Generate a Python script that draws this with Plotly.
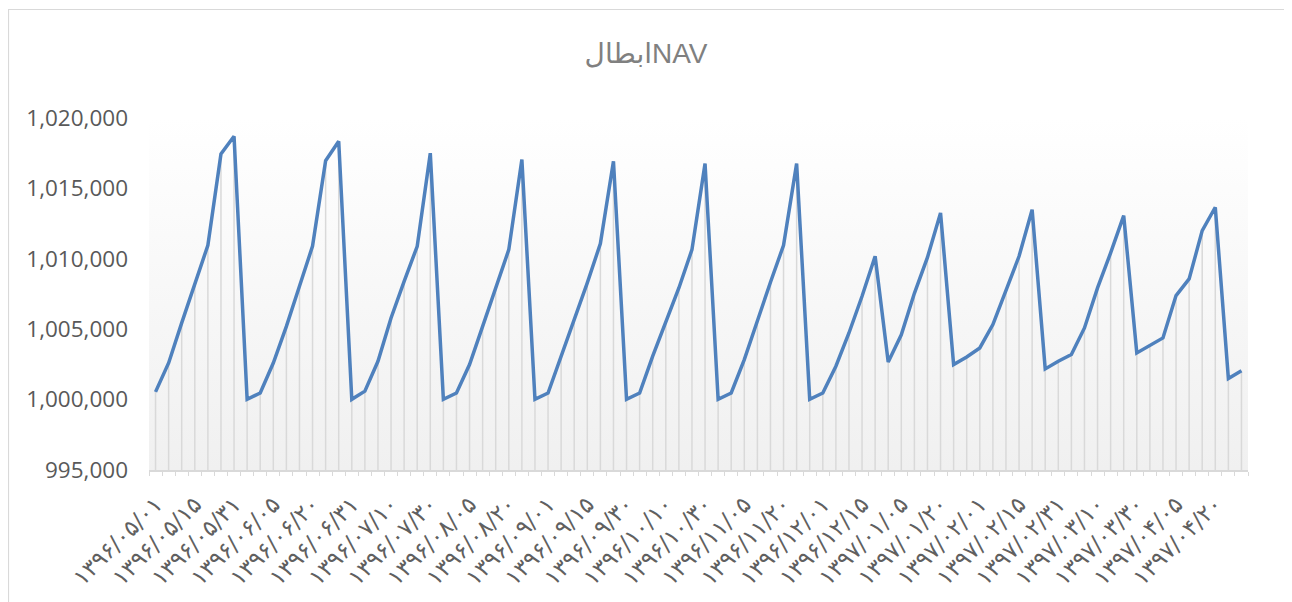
import base64
import plotly.graph_objects as go

# NAV values (one per category, 84 points)
nav_values = [
    1000550, 1002600, 1005450, 1008170, 1010960, 1017450, 1018700,
    1000020, 1000470, 1002600, 1005200, 1008050, 1010900, 1016970, 1018350,
    1000020, 1000600, 1002720, 1005800, 1008400, 1010890, 1017500,
    1000020, 1000470, 1002490, 1005200, 1007930, 1010650, 1017050,
    1000020, 1000470, 1003080, 1005560, 1008290, 1011080, 1016930,
    1000020, 1000470, 1003080, 1005440, 1007930, 1010650, 1016760,
    1000020, 1000470, 1002840, 1005680, 1008330, 1010960, 1016760,
    1000020, 1000470, 1002370, 1004730, 1007340, 1010180,
    1002670, 1004600, 1007550, 1010100, 1013260,
    1002490, 1003030, 1003670, 1005330, 1007690, 1010180, 1013490,
    1002180, 1002720, 1003200, 1005090, 1007930, 1010420, 1013070,
    1003310, 1003840, 1004380, 1007390, 1008570, 1012000, 1013660,
    1001500, 1002050,
]

# date labels shown on the category axis (every third category)
tick_labels = [
    "۱۳۹۶/۰۵/۰۱", "۱۳۹۶/۰۵/۱۵", "۱۳۹۶/۰۵/۳۱", "۱۳۹۶/۰۶/۰۵", "۱۳۹۶/۰۶/۲۰",
    "۱۳۹۶/۰۶/۳۱", "۱۳۹۶/۰۷/۱۰", "۱۳۹۶/۰۷/۳۰", "۱۳۹۶/۰۸/۰۵", "۱۳۹۶/۰۸/۲۰",
    "۱۳۹۶/۰۹/۰۱", "۱۳۹۶/۰۹/۱۵", "۱۳۹۶/۰۹/۳۰", "۱۳۹۶/۱۰/۱۰", "۱۳۹۶/۱۰/۳۰",
    "۱۳۹۶/۱۱/۰۵", "۱۳۹۶/۱۱/۲۰", "۱۳۹۶/۱۲/۰۱", "۱۳۹۶/۱۲/۱۵", "۱۳۹۷/۰۱/۰۵",
    "۱۳۹۷/۰۱/۲۰", "۱۳۹۷/۰۲/۰۱", "۱۳۹۷/۰۲/۱۵", "۱۳۹۷/۰۲/۳۱", "۱۳۹۷/۰۳/۱۰",
    "۱۳۹۷/۰۳/۳۰", "۱۳۹۷/۰۴/۰۵", "۱۳۹۷/۰۴/۲۰",
]
label_step = 3

y_min, y_max, y_step = 995000, 1020000, 5000
title_text = "ابطالNAV"

x_idx = list(range(len(nav_values)))
tick_vals = [i * label_step for i in range(len(tick_labels))]

# drop lines from each point down to the axis
drop_x, drop_y = [], []
for xi, v in zip(x_idx, nav_values):
    drop_x += [xi, xi, None]
    drop_y += [y_min, v, None]

fig = go.Figure()
fig.add_trace(go.Scatter(
    x=drop_x, y=drop_y, mode="lines",
    line=dict(color="#d9d9d9", width=1.5),
    hoverinfo="skip", showlegend=False,
))
fig.add_trace(go.Scatter(
    x=x_idx, y=nav_values, mode="lines",
    line=dict(color="#4f81bd", width=3.5),
    showlegend=False,
))

svg = (
    "<svg xmlns='http://www.w3.org/2000/svg' width='100' height='100' "
    "viewBox='0 0 100 100' preserveAspectRatio='none'>"
    "<defs><linearGradient id='g' x1='0' y1='0' x2='0' y2='1'>"
    "<stop offset='0' stop-color='#ffffff'/>"
    "<stop offset='1' stop-color='#f0f0f0'/>"
    "</linearGradient></defs>"
    "<rect width='100' height='100' fill='url(#g)'/></svg>"
)
src = "data:image/svg+xml;base64," + base64.b64encode(svg.encode()).decode()

# page has an 8px body margin; figure is sized to fill the rest of the window
OFF = 8
W, H = 1292 - OFF, 602 - OFF
L, T = 149 - OFF, 118 - OFF
R = W - (1248 - OFF)
B = H - (470 - OFF)
pw, ph = W - L - R, H - T - B

def px_x(px):
    return (px - OFF - L) / pw

def px_y(py):
    return (H - B - (py - OFF)) / ph

fig.update_layout(
    width=W, height=H,
    margin=dict(l=L, r=R, t=T, b=B, pad=0, autoexpand=False),
    paper_bgcolor="white",
    plot_bgcolor="rgba(0,0,0,0)",
    title=dict(
        text=title_text, x=0.5 - OFF / 2 / W, xref="container",
        y=1 - (53 - OFF) / H,
        yref="container", xanchor="center", yanchor="middle",
        font=dict(family="Liberation Sans, DejaVu Sans", size=28, color="#808080"),
    ),
    images=[dict(
        source=src, xref="paper", yref="paper", x=0, y=1, sizex=1, sizey=1,
        sizing="stretch", xanchor="left", yanchor="top", layer="below",
    )],
    shapes=[dict(
        type="rect", xref="paper", yref="paper",
        x0=px_x(8.5), x1=px_x(1288.5), y0=px_y(604), y1=px_y(9.5),
        line=dict(color="#d9d9d9", width=1.2), fillcolor="rgba(0,0,0,0)",
        layer="below",
    )],
    xaxis=dict(
        range=[-0.5, len(nav_values) - 0.5], automargin=False,
        tickmode="array", tickvals=tick_vals, ticktext=tick_labels,
        tickangle=-45, ticks="",
        tickfont=dict(family="DejaVu Sans", size=23, color="#606060"),
        showgrid=False, zeroline=False,
        showline=True, linecolor="#d9d9d9", linewidth=1.5,
        minor=dict(ticks="outside", tickmode="linear", tick0=-0.5, dtick=1,
                   ticklen=4, tickcolor="#d9d9d9", tickwidth=1, showgrid=False),
        ticklabelstandoff=10,
    ),
    yaxis=dict(
        range=[y_min, y_max], tickmode="linear", tick0=y_min, dtick=y_step,
        tickformat=",", showgrid=False, zeroline=False, showline=False,
        ticks="", ticklabelstandoff=20, automargin=False,
        tickfont=dict(family="Open Sans", size=22.5, color="#595959"),
    ),
)

fig.write_html("out.html")
